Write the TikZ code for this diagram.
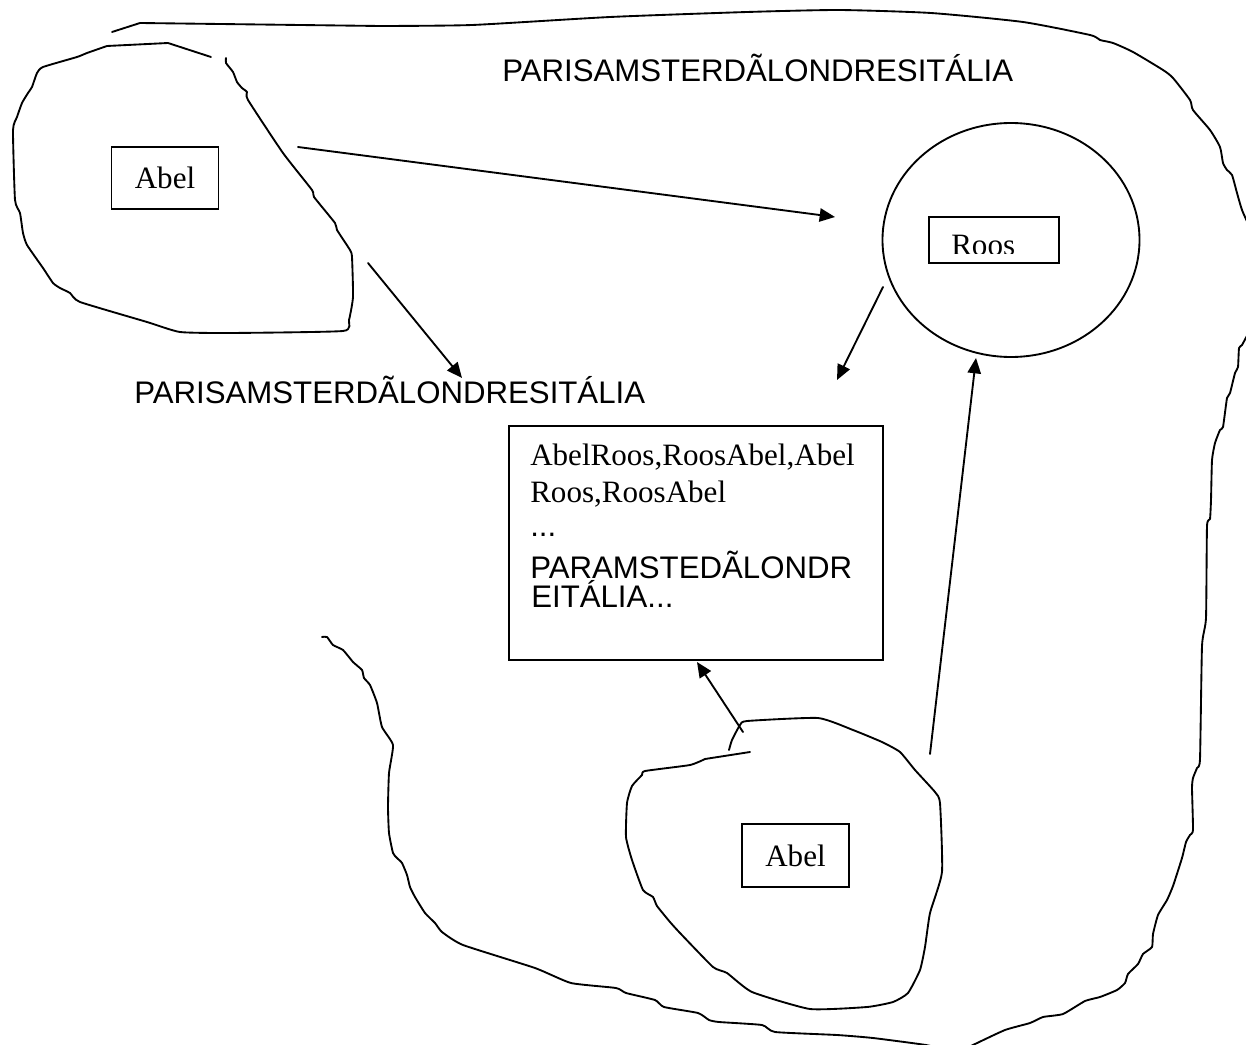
\documentclass[tikz,border=0pt]{standalone}
\usepackage{fontspec}
\setmainfont{Liberation Serif}
\newfontfamily\arialf{Liberation Sans}
\usetikzlibrary{arrows.meta,shapes.geometric}
\tikzset{
  ln/.style={line width=1.4pt, line join=round, line cap=round},
  arr/.style={ln, -{Triangle[length=11.5pt,width=10pt]}},
  box/.style={draw, line width=1.4pt, inner sep=0pt},
  serif/.style={font=\fontsize{23.3}{27}\selectfont, inner sep=0pt},
  sans/.style={font=\arialf\fontsize{23.4}{27}\selectfont, inner sep=0pt}
}
\begin{document}
\begin{tikzpicture}[x=0.75pt,y=-0.75pt]
\useasboundingbox (0,0) rectangle (1246,1045);
\clip (0,0) rectangle (1246,1045);

% big outline, top and right part
\draw[ln] (112,32) -- (140,23) -- (380,26) plot[smooth, tension=0.35] coordinates {(380,26) (472,25) (610,17) (747,12) (839,10) (931,13) (1023,22) (1090,35) (1100,40) (1113,43) (1133,52) (1163,70) (1173,78) (1190,100) (1193,110) (1210,130) (1220,147) (1223,163) (1227,170) (1232,175) (1237,193) (1242,210) (1250,228)};
\draw[ln] plot[smooth, tension=0.3] coordinates {(1250,330) (1242,345) (1239,348) (1238,367) (1235,373) (1230,393) (1227,398) (1223,427) (1220,430) (1215,443) (1212,460) (1211,500) (1210,519) (1207,526) (1206,618) (1202,646) (1200,759) (1197,768) (1193,778) (1192,788) (1193,830) (1190,835) (1186,842) (1182,858) (1173,886) (1167,900) (1158,915) (1153,934) (1152,947) (1143,954) (1138,964) (1128,974) (1125,983) (1117,990) (1100,997) (1085,1001) (1063,1014) (1043,1017) (1030,1023) (1005,1030) (973,1045) (960,1052)};
% big outline, lower left part
\draw[ln] plot[smooth, tension=0.3] coordinates {(322,637) (327,637) (333,645) (343,650) (353,662) (362,670) (364,678) (370,685) (377,703) (382,727) (393,745) (389,773) (388,807) (389,833) (393,853) (397,858) (402,863) (407,875) (410,887) (415,897) (425,913) (435,923) (442,932) (463,945) (535,968) (571,983) (616,988) (626,993) (655,1000) (664,1007) (698,1013) (709,1020) (719,1022) (762,1025) (775,1032) (837,1035) (873,1038) (926,1045) (945,1050)};

% top-left blob
\draw[ln] plot[smooth, tension=0.3] coordinates {(226,58) (226,63) (233,72) (237,82) (242,88) (247,92) (248,100) (283,153) (312,190) (314,197) (335,223) (337,230) (350,250) (352,257) (353,297) (349,320) (343,331) (230,333) (180,332) (147,322) (80,302) (70,293) (60,288) (53,283) (43,268) (27,245) (23,233) (20,213) (15,200) (13,130) (17,117) (22,103) (28,93) (32,87) (37,73) (43,67) (77,57) (87,53) (107,46)} -- (168,43) -- (211,57);

% bottom blob
\draw[ln] (750,752) -- (705,759) plot[smooth, tension=0.3] coordinates {(705,759) (690,765) (645,771) (642,775) (632,786) (627,803) (626,837) (632,860) (643,890) (653,897) (657,906) (670,922) (680,933) (713,967) (727,973) (752,992) (810,1009) (867,1007) (893,1002) (908,993) (920,970) (925,947) (930,913) (942,872) (940,803) (935,792) (915,770) (900,752) (882,742) (853,730) (818,718) (747,721) (740,725) (732,740) (729,750)};

% Roos ellipse
\node[draw, ellipse, line width=1.4pt, minimum width=192.75pt, minimum height=175.5pt, inner sep=0pt] (circ) at (1011,240) {};

% boxes
\node[box, serif, minimum width=80.25pt, minimum height=46.5pt] (abel1) at (165,178) {Abel};
\node[box, serif, minimum width=80.25pt, minimum height=47.25pt] (abel2) at (795.5,855.5) {Abel};
\node[box, minimum width=97.5pt, minimum height=34.5pt] (roosbox) at (994,240) {};
\begin{scope}
  \clip ([yshift=7.5pt]roosbox.south west) rectangle (roosbox.north east);
  \node[serif, anchor=base west] (roostext) at (951,255) {Roos};
\end{scope}
\node[box, minimum width=280.5pt, minimum height=175.5pt] (bigbox) at (696,543) {};
\node[serif, anchor=base west] (l1) at (530,465) {AbelRoos,RoosAbel,Abel};
\node[serif, anchor=base west] (l2) at (530,502) {Roos,RoosAbel};
\node[sans, anchor=base west] (l3) at (530,536) {...};
\node[sans, anchor=base west] (l4) at (530,578) {PARAMSTEDÃLONDR};
\node[sans, anchor=base west] (l5) at (531,607) {EITÁLIA...};

% free texts
\node[sans, anchor=base west] (t1) at (502,82) {PARISAMSTERDÃLONDRESITÁLIA};
\node[sans, anchor=base west] (t2) at (134,403) {PARISAMSTERDÃLONDRESITÁLIA};

% arrow end points
\coordinate (a1s) at (298,147);
\coordinate (a1e) at (835,217);
\coordinate (a2s) at (368,263);
\coordinate (a2e) at (462,378);
\coordinate (a3s) at (883,287);
\coordinate (a3e) at (837,380);
\coordinate (a4s) at (930,754);
\coordinate (a4e) at (976,358);
\coordinate (a5s) at (743,732);
\coordinate (a5e) at (697,662);

\draw[arr] (a1s) -- (a1e);
\draw[arr] (a2s) -- (a2e);
\draw[arr] (a3s) -- (a3e);
\draw[arr] (a4s) -- (a4e);
\draw[arr] (a5s) -- (a5e);
\end{tikzpicture}
\end{document}
